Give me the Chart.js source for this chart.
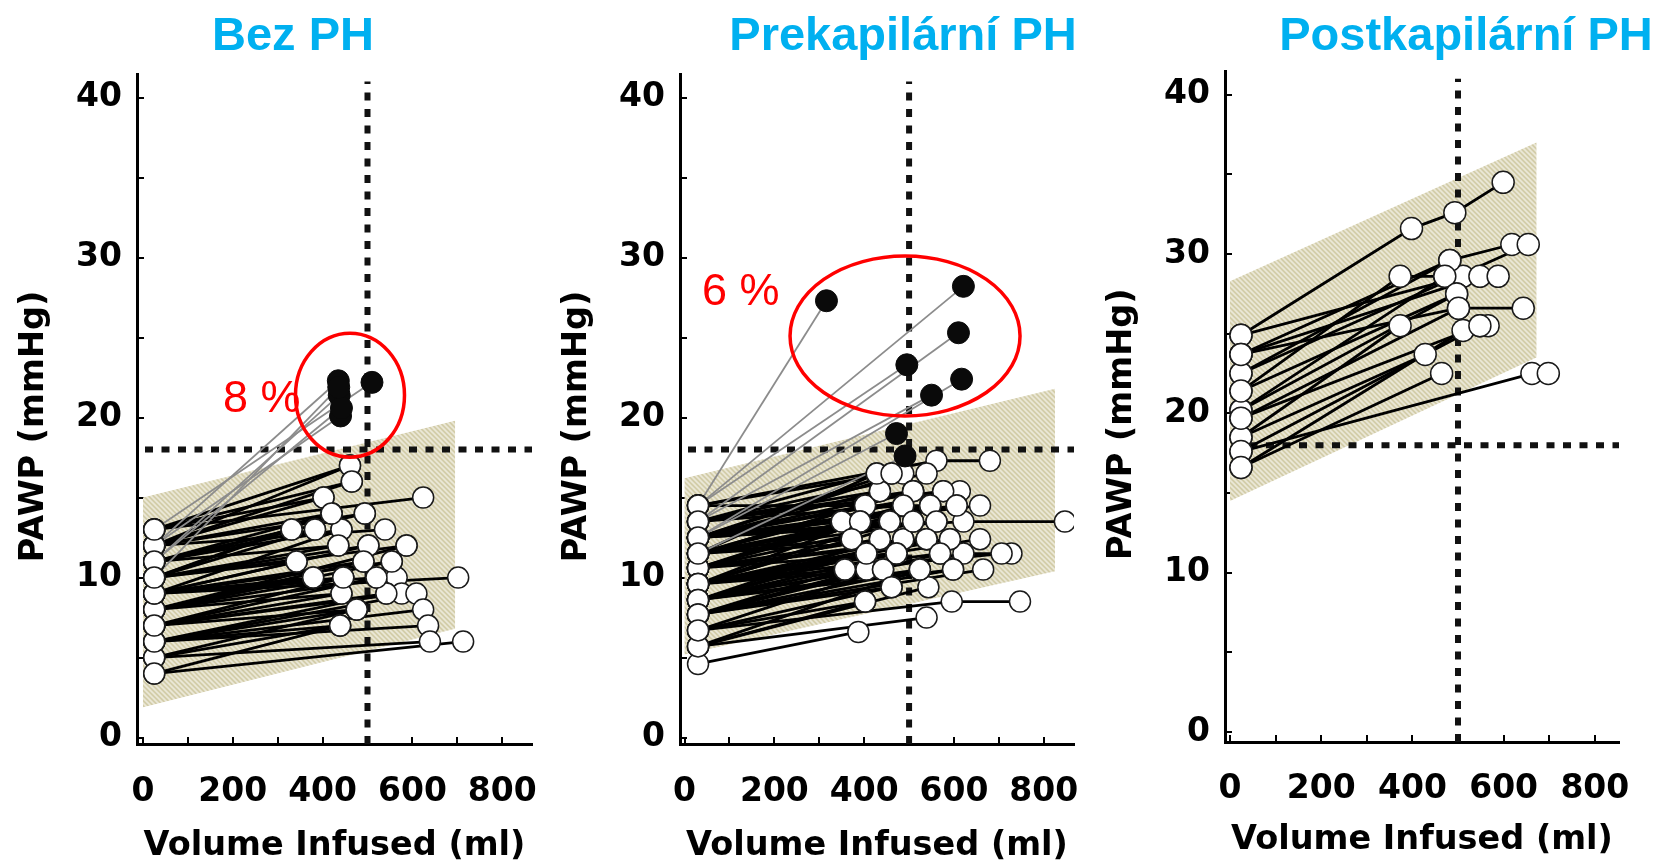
<!DOCTYPE html>
<html><head><meta charset="utf-8">
<script src="https://cdn.jsdelivr.net/npm/chart.js@4"></script>
<style>
html,body{margin:0;padding:0;background:#fff;}
body{width:1660px;height:863px;position:relative;overflow:hidden;font-family:'Liberation Sans',Arial,sans-serif;}
canvas{position:absolute;top:0;}
.title{position:absolute;top:10px;width:520px;text-align:center;font-weight:bold;font-size:47px;line-height:47px;color:#00b0f0;white-space:nowrap;}
.pct{position:absolute;font-size:45px;line-height:45px;color:#ff0000;white-space:nowrap;}
</style></head>
<body>
<canvas id="c1" width="545" height="863" style="left:0px"></canvas>
<canvas id="c2" width="545" height="863" style="left:545px"></canvas>
<canvas id="c3" width="570" height="863" style="left:1090px"></canvas>
<div class="title" style="left:33px">Bez PH</div>
<div class="title" style="left:643px">Prekapilární PH</div>
<div class="title" style="left:1206px">Postkapilární PH</div>
<div class="pct" style="left:223px;top:374px">8 %</div>
<div class="pct" style="left:702px;top:267px">6 %</div>
<script>
// ---------- tick labels / reference lines ----------
const xTickLabels = [0, 200, 400, 600, 800];
const yTickLabels = [0, 10, 20, 30, 40];
const hLineY = 18;      // PAWP threshold
const vLineX = 500;     // 500 ml
const vLineTop = 41;

// ---------- Panel 1: Bez PH ----------
const p1BandX = [0, 695, 695, 0];
const p1BandY = [15, 19.8, 6.8, 1.9];
const p1X = [
 [25,461],[25,465],[25,402],[25,624],[25,420],[25,494],[25,442],[25,331],[25,383],[25,539],
 [25,435],[25,502],[25,587],[25,342],[25,491],[25,554],[25,379],[25,446],[25,520],[25,565],
 [25,702],[25,442],[25,542],[25,576],[25,609],[25,476],[25,624],[25,439],[25,635],[25,639],
 [25,713],[25,420],[25,442],[25,502],[25,491],[25,446],[25,542],[25,476],[25,439],[25,587],[25,554],
 [25,331],[25,383],[25,342],[25,379],[25,402],[25,461],[25,465],[25,442],[25,439],[25,435],
 [25,420],[25,494],[25,520],[25,446],[25,476]
];
const p1Y = [
 [13,17],[12,16],[12,15],[13,15],[11,14],[12,14],[11,13],[10,13],[11,13],[12,13],
 [10,12],[9,12],[10,12],[9,11],[8,11],[9,11],[8,10],[8,10],[7,10],[8,10],
 [9,10],[7,9],[6,9],[7,9],[6,9],[6,8],[6,8],[5,7],[6,7],[5,6],
 [4,6],[10,14],[9,13],[10,12],[9,11],[7,10],[7,9],[5,8],[4,7],[8,12],[8,11],
 [11,13],[10,13],[10,11],[9,10],[13,15],[12,17],[13,16],[8,9],[6,7],[11,12],
 [12,14],[11,14],[9,10],[9,10],[7,8]
];
const p1HiX = [[25,435],[25,437],[25,440],[25,442],[25,510],[25,436]];
const p1HiY = [[12,22.3],[11,21.4],[12,20.1],[11,20.6],[13,22.2],[10,21.9]];

// ---------- Panel 2: Prekapilární PH ----------
const p2BandX = [0, 825, 825, 0];
const p2BandY = [16.2, 21.8, 10.4, 5.2];
const p2X = [
 [30,561,680],[30,428],[30,461],[30,487],[30,539],[30,435],[30,509],[30,576],[30,613],[30,402],
 [30,487],[30,547],[30,606],[30,658],[30,350],[30,391],[30,457],[30,509],[30,561],[30,621,847],
 [30,372],[30,435],[30,487],[30,539],[30,591],[30,658],[30,405],[30,472],[30,569],[30,621,728],
 [30,706],[30,357],[30,405],[30,442],[30,524],[30,598],[30,665],[30,461],[30,543],[30,402],
 [30,595,747],[30,539],[30,387],
 [30,457],[30,539],[30,509],[30,487],[30,402],[30,435],[30,391],[30,472],[30,405],[30,524],[30,442],[30,547],
 [30,428],[30,461],[30,509],[30,576],[30,487],[30,547],[30,606],[30,350],[30,391],[30,457],[30,509],[30,561],
 [30,372],[30,435],[30,539],[30,591],[30,405],[30,472],[30,569],[30,357],[30,442],[30,524],[30,598],[30,461],[30,402]
];
const p2Y = [
 [14.5,17.3,17.3],[13.5,16.5],[14.5,16.5],[12.5,16.5],[13.5,16.5],[12.5,15.4],[11.5,15.4],[13.5,15.4],[12.5,15.4],[11.5,14.5],
 [10.6,14.5],[12.5,14.5],[11.5,14.5],[12.5,14.5],[10.6,13.5],[11.5,13.5],[9.6,13.5],[10.6,13.5],[11.5,13.5],[12.5,13.5,13.5],
 [9.6,12.4],[10.6,12.4],[8.6,12.4],[9.6,12.4],[10.6,12.4],[9.6,12.4],[8.6,11.5],[9.6,11.5],[7.7,11.5],[8.6,11.5,11.5],
 [9.6,11.5],[7.7,10.5],[8.6,10.5],[6.7,10.5],[7.7,10.5],[8.6,10.5],[7.7,10.5],[6.7,9.4],[5.7,9.4],[5.7,8.5],
 [6.7,8.5,8.5],[5.7,7.5],[4.6,6.6],
 [12.5,13.5],[11.5,12.4],[13.5,15.4],[9.6,12.4],[12.5,14.5],[13.5,15.4],[9.6,13.5],[10.6,11.5],[7.7,10.5],[5.7,10.5],[9.6,10.5],[14.5,14.5],
 [11.5,16.5],[12.5,16.5],[12.5,15.4],[11.5,15.4],[13.5,14.5],[10.6,14.5],[12.5,14.5],[12.5,13.5],[10.6,13.5],[11.5,13.5],[9.6,13.5],[12.5,13.5],
 [11.5,12.4],[8.6,12.4],[10.6,12.4],[9.6,12.4],[9.6,11.5],[8.6,11.5],[9.6,11.5],[8.6,10.5],[7.7,10.5],[8.6,10.5],[7.7,10.5],[7.7,9.4],[6.7,8.5]
];
const p2HiX = [[30,316],[30,621],[30,610],[30,495],[30,617],[30,550],[30,472],[30,491]];
const p2HiY = [[14.5,27.3],[14.5,28.2],[13.5,25.3],[14.5,23.3],[12.5,22.4],[13.5,21.4],[12.5,19],[11.5,17.6]];

// ---------- Panel 3: Postkapilární PH ----------
const p3BandX = [0, 672, 672, 0];
const p3BandY = [28.3, 37, 23.5, 14.5];
const p3X = [
 [24,398,493,599],[24,482,618],[24,654],[24,373,471],[24,511],[24,548,588],[24,497],[24,501,643],
 [24,373],[24,548,566],[24,428],[24,464],[24,662,698],[24,482],[24,471],[24,497],[24,501],[24,511],[24,548]
];
const p3Y = [
 [24.9,31.6,32.6,34.5],[23.7,29.6,30.6],[22.5,30.6],[21.4,28.6,28.6],[24.9,28.6],[23.7,28.6,28.6],[20.2,27.5],[19.7,26.6,26.6],
 [18.5,25.5],[17.6,25.5,25.5],[18.5,23.7],[16.6,22.5],[17.6,22.5,22.5],[22.5,29.6],[20.2,28.6],[21.4,27.5],[23.7,26.6],[16.6,25.2],[19.7,25.5]
];

// ---------- helpers ----------
const FONT = "'DejaVu Sans', sans-serif";

function hatchPattern() {
  const s = 5;
  const c = document.createElement('canvas'); c.width = s; c.height = s;
  const g = c.getContext('2d');
  g.fillStyle = '#d3cda9'; g.fillRect(0, 0, s, s);
  g.strokeStyle = '#ebe8d8'; g.lineWidth = 1.6;
  g.beginPath();
  g.moveTo(-1, -1); g.lineTo(s + 1, s + 1);
  g.moveTo(-1, s - 1); g.lineTo(1, s + 1);
  g.moveTo(s - 1, -1); g.lineTo(s + 1, 1);
  g.stroke();
  return g.createPattern(c, 'repeat');
}

const ringPlugin = {
  id: 'ring',
  afterDatasetsDraw(chart, args, opts) {
    if (!opts || !opts.at) return;
    const {ctx, scales: {x, y}} = chart;
    ctx.save();
    ctx.strokeStyle = opts.color; ctx.lineWidth = opts.width;
    ctx.beginPath();
    ctx.ellipse(x.getPixelForValue(opts.at[0]), y.getPixelForValue(opts.at[1]), opts.rx, opts.ry, 0, 0, Math.PI * 2);
    ctx.stroke();
    ctx.restore();
  }
};

function toPts(xs, ys) { return xs.map((x, i) => ({x, y: ys[i]})); }

function buildPanel(id, d, c) {
  const datasets = [];
  datasets.push({
    data: toPts(d.bandX, d.bandY), fill: 'shape', backgroundColor: hatchPattern(),
    borderWidth: 0, pointRadius: 0, order: 100
  });
  datasets.push({
    data: [{x: c.xMin, y: hLineY}, {x: c.xMax, y: hLineY}], borderColor: '#111', borderWidth: 6,
    borderDash: [8, 8.5], borderDashOffset: -8, borderCapStyle: 'butt', pointRadius: 0, fill: false, order: 90
  });
  datasets.push({
    data: [{x: vLineX, y: c.yMin}, {x: vLineX, y: vLineTop}], borderColor: '#111', borderWidth: 6,
    borderDash: [8, 8.5], borderCapStyle: 'butt', pointRadius: 0, fill: false, order: 90
  });
  d.X.forEach((row, i) => datasets.push({
    data: toPts(row, d.Y[i]), borderColor: '#000', borderWidth: c.lw, pointRadius: 0, fill: false, order: 80
  }));
  d.hiX.forEach((row, i) => datasets.push({
    data: toPts(row, d.hiY[i]), borderColor: '#8c8c8c', borderWidth: 1.8, pointRadius: 0, fill: false, order: 70
  }));
  const open = [];
  d.X.concat(d.hiX).forEach((row, i) => {
    const ys = i < d.X.length ? d.Y[i] : d.hiY[i - d.X.length];
    open.push({x: row[0], y: ys[0]});
  });
  d.X.forEach((row, i) => row.forEach((x, j) => { if (j > 0) open.push({x, y: d.Y[i][j]}); }));
  const black = [];
  d.hiX.forEach((row, i) => row.forEach((x, j) => { if (j > 0) black.push({x, y: d.hiY[i][j]}); }));
  datasets.push({
    data: open, showLine: false, pointRadius: c.r, pointBackgroundColor: '#fff',
    pointBorderColor: '#1a1a1a', pointBorderWidth: 1.5, order: 10
  });
  datasets.push({
    data: black, showLine: false, pointRadius: 11, pointBackgroundColor: '#0a0a0a',
    pointBorderColor: '#0a0a0a', pointBorderWidth: 1, order: 5
  });

  const yTickFont = {family: FONT, size: 33, weight: 'bold'};
  const xTickFont = {family: FONT, size: 33, weight: 'bold', lineHeight: c.xLH};
  const titleFont = {family: FONT, size: 33.5, weight: 'bold'};
  const grid = {drawOnChartArea: false, drawTicks: true, tickLength: -7, color: '#000', lineWidth: 2};
  const border = {display: true, color: '#000', width: 3};

  new Chart(document.getElementById(id), {
    type: 'line',
    data: {datasets},
    options: {
      responsive: false, animation: false, events: [],
      layout: {padding: {left: 0, top: c.top, right: c.right, bottom: 0}},
      elements: {line: {tension: 0}},
      plugins: {legend: {display: false}, tooltip: {enabled: false}, ring: c.ring || false},
      scales: {
        x: {
          type: 'linear', min: c.xMin, max: c.xMax,
          afterFit(s) { s.height = c.xH; },
          ticks: {stepSize: 100, autoSkip: false, maxRotation: 0, minRotation: 0, includeBounds: false,
            padding: 0, color: '#000', font: xTickFont,
            callback: v => xTickLabels.includes(v) ? String(v) : ''},
          grid, border,
          title: {display: true, text: 'Volume Infused (ml)', color: '#000', font: titleFont,
            padding: {top: 0, bottom: c.xTitlePad}}
        },
        y: {
          type: 'linear', min: c.yMin, max: c.yMax,
          afterFit(s) { s.width = c.yW; },
          ticks: {stepSize: 5, autoSkip: false, includeBounds: false, padding: 22, color: '#000', font: yTickFont,
            callback: v => yTickLabels.includes(v) ? String(v) : ''},
          grid, border,
          title: {display: true, text: 'PAWP (mmHg)   ', color: '#000', font: titleFont,
            padding: {top: c.yTitlePad, bottom: 0}}
        }
      }
    },
    plugins: [ringPlugin]
  });
}

buildPanel('c1',
  {bandX: p1BandX, bandY: p1BandY, X: p1X, Y: p1Y, hiX: p1HiX, hiY: p1HiY},
  {xMin: -13.4, xMax: 866.4, yMin: -0.4, yMax: 41.47, top: 74, right: 13, yW: 137, xH: 119,
   xLH: 3.36, xTitlePad: -3, yTitlePad: 14.5, lw: 2.8, r: 10.5,
   ring: {at: [461, 21.4], rx: 54.5, ry: 62, color: '#ff0000', width: 3.5}});

buildPanel('c2',
  {bandX: p2BandX, bandY: p2BandY, X: p2X, Y: p2Y, hiX: p2HiX, hiY: p2HiY},
  {xMin: -10.2, xMax: 867.3, yMin: -0.4, yMax: 41.47, top: 74, right: 16, yW: 135, xH: 119,
   xLH: 3.36, xTitlePad: -3, yTitlePad: 12.4, lw: 2.8, r: 10.5,
   ring: {at: [491, 25.1], rx: 115, ry: 80, color: '#ff0000', width: 3.5}});

buildPanel('c3',
  {bandX: p3BandX, bandY: p3BandY, X: p3X, Y: p3Y, hiX: [], hiY: []},
  {xMin: -11, xMax: 853, yMin: -0.63, yMax: 41.46, top: 71.5, right: 41, yW: 135, xH: 121,
   xLH: 3.31, xTitlePad: 3, yTitlePad: 11.9, lw: 2.8, r: 11});
</script>
</body></html>
